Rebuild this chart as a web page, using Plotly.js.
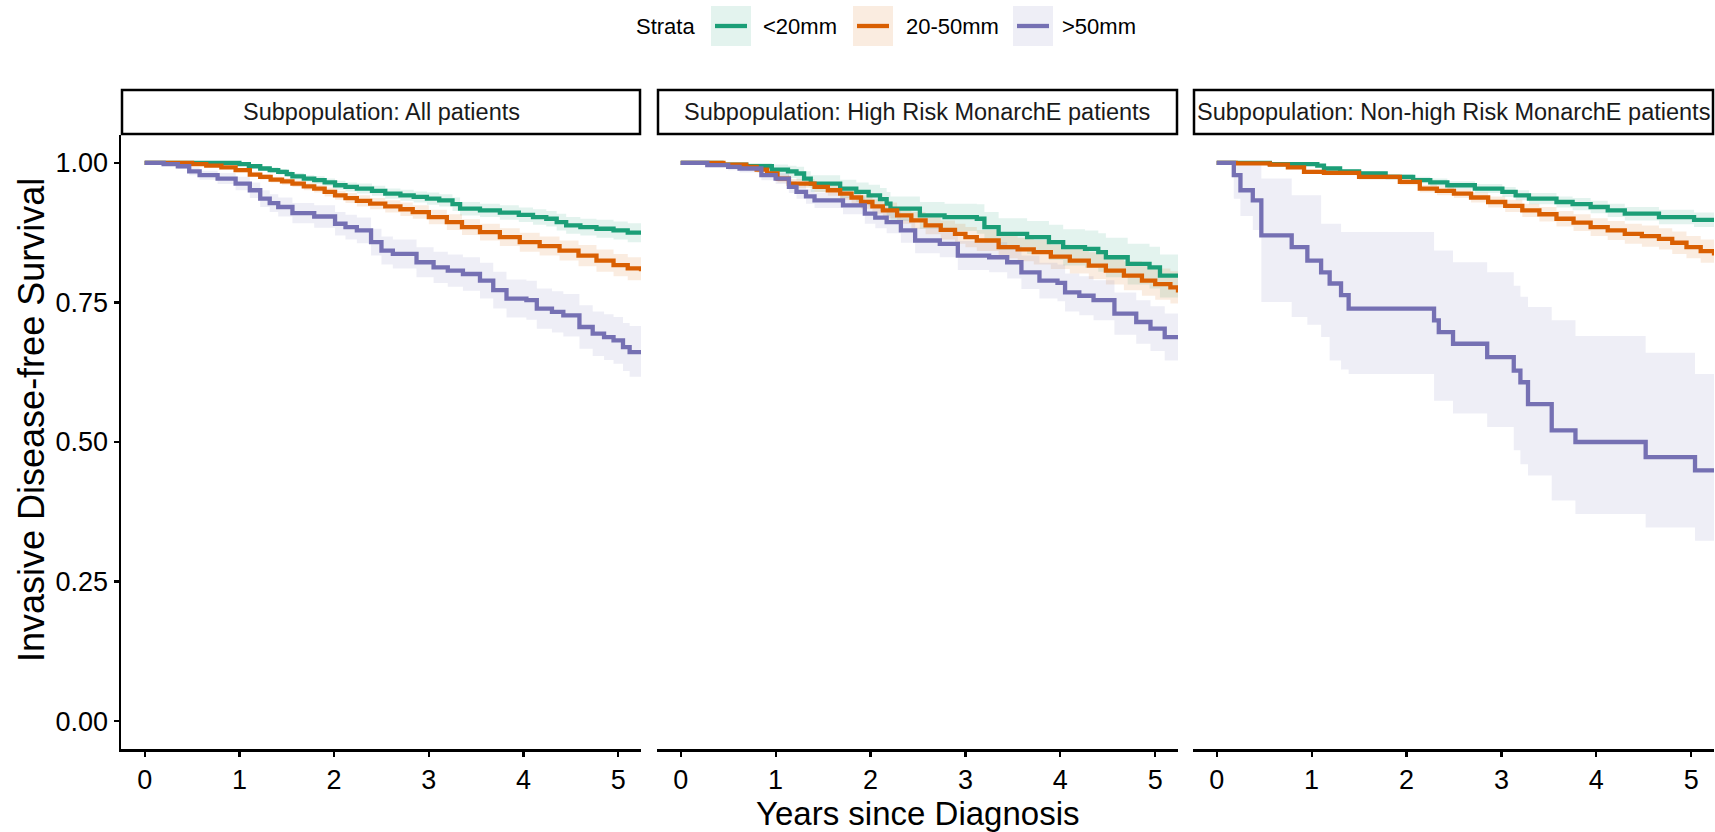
<!DOCTYPE html>
<html>
<head>
<meta charset="utf-8">
<script src="https://cdn.plot.ly/plotly-3.0.1.min.js"></script>
<style>html,body{margin:0;padding:0;background:#fff;}#chart{width:1715px;height:832px;}</style>
</head>
<body>
<div id="chart"></div>
<script>
// ---------------- DATA ----------------
const panelTitles = ["Subpopulation: All patients", "Subpopulation: High Risk MonarchE patients", "Subpopulation: Non-high Risk MonarchE patients"];
const strataNames = ["<20mm", "20-50mm", ">50mm"];
const legendTitle = "Strata";
const xTickVals = [0, 1, 2, 3, 4, 5];
const xTickText = ["0", "1", "2", "3", "4", "5"];
const yTickVals = [0, 0.25, 0.5, 0.75, 1];
const yTickText = ["0.00", "0.25", "0.50", "0.75", "1.00"];
const xTitle = "Years since Diagnosis";
const yTitle = "Invasive Disease-free Survival";

// Panel 1: All patients
const all_lt20_t  = [0, 1.00, 1.10, 1.22, 1.32, 1.41, 1.50, 1.56, 1.68, 1.79, 1.90, 2.01, 2.12, 2.24, 2.40, 2.54, 2.70, 2.84, 2.98, 3.11, 3.25, 3.33, 3.54, 3.75, 3.95, 4.10, 4.24, 4.35, 4.45, 4.60, 4.77, 4.95, 5.10, 5.24];
const all_lt20_s  = [1.000, 0.998, 0.994, 0.990, 0.987, 0.984, 0.980, 0.976, 0.972, 0.969, 0.965, 0.960, 0.957, 0.954, 0.950, 0.945, 0.942, 0.939, 0.936, 0.933, 0.926, 0.918, 0.915, 0.911, 0.907, 0.903, 0.900, 0.894, 0.888, 0.885, 0.882, 0.879, 0.875, 0.873];
const all_lt20_lo = [1.000, 0.996, 0.991, 0.986, 0.982, 0.979, 0.975, 0.970, 0.966, 0.962, 0.958, 0.952, 0.949, 0.945, 0.941, 0.936, 0.932, 0.929, 0.925, 0.922, 0.914, 0.906, 0.903, 0.898, 0.894, 0.889, 0.886, 0.879, 0.873, 0.870, 0.866, 0.863, 0.858, 0.856];
const all_lt20_hi = [1.000, 1.000, 0.997, 0.994, 0.992, 0.989, 0.986, 0.982, 0.978, 0.976, 0.972, 0.968, 0.965, 0.963, 0.959, 0.954, 0.952, 0.949, 0.947, 0.944, 0.938, 0.930, 0.927, 0.924, 0.920, 0.917, 0.914, 0.909, 0.903, 0.900, 0.898, 0.895, 0.892, 0.890];

const all_mid_t  = [0, 0.50, 0.65, 0.81, 0.96, 1.11, 1.22, 1.33, 1.45, 1.56, 1.68, 1.79, 1.90, 2.01, 2.12, 2.24, 2.38, 2.54, 2.70, 2.83, 3.00, 3.19, 3.35, 3.54, 3.75, 3.96, 4.17, 4.38, 4.58, 4.77, 4.95, 5.10, 5.24];
const all_mid_s  = [1.000, 0.998, 0.995, 0.992, 0.987, 0.979, 0.975, 0.970, 0.967, 0.963, 0.958, 0.954, 0.948, 0.942, 0.937, 0.932, 0.927, 0.922, 0.917, 0.912, 0.903, 0.894, 0.885, 0.876, 0.867, 0.858, 0.851, 0.843, 0.834, 0.825, 0.817, 0.811, 0.806];
const all_mid_lo = [1.000, 0.997, 0.993, 0.989, 0.983, 0.975, 0.970, 0.965, 0.961, 0.957, 0.951, 0.947, 0.940, 0.934, 0.928, 0.922, 0.917, 0.911, 0.905, 0.900, 0.890, 0.880, 0.871, 0.861, 0.851, 0.841, 0.834, 0.825, 0.815, 0.805, 0.797, 0.790, 0.786];
const all_mid_hi = [1.000, 0.999, 0.997, 0.995, 0.991, 0.984, 0.980, 0.975, 0.973, 0.969, 0.965, 0.961, 0.956, 0.950, 0.946, 0.942, 0.937, 0.933, 0.929, 0.924, 0.916, 0.908, 0.899, 0.891, 0.883, 0.875, 0.868, 0.861, 0.853, 0.845, 0.837, 0.831, 0.826];

const all_gt50_t  = [0, 0.20, 0.35, 0.47, 0.58, 0.77, 0.96, 1.11, 1.22, 1.32, 1.41, 1.56, 1.79, 2.01, 2.12, 2.24, 2.39, 2.50, 2.62, 2.87, 3.05, 3.20, 3.36, 3.54, 3.68, 3.82, 4.03, 4.14, 4.30, 4.42, 4.59, 4.73, 4.85, 4.95, 5.05, 5.12, 5.24];
const all_gt50_s  = [1.000, 0.998, 0.994, 0.985, 0.978, 0.972, 0.963, 0.951, 0.936, 0.928, 0.921, 0.910, 0.904, 0.891, 0.885, 0.879, 0.858, 0.843, 0.837, 0.822, 0.813, 0.807, 0.801, 0.789, 0.772, 0.757, 0.754, 0.739, 0.733, 0.727, 0.706, 0.694, 0.688, 0.682, 0.670, 0.661, 0.658];
const all_gt50_lo = [1.000, 0.995, 0.989, 0.978, 0.970, 0.962, 0.951, 0.937, 0.921, 0.912, 0.904, 0.892, 0.884, 0.870, 0.863, 0.856, 0.834, 0.818, 0.811, 0.795, 0.785, 0.778, 0.771, 0.757, 0.739, 0.723, 0.719, 0.703, 0.696, 0.689, 0.667, 0.654, 0.647, 0.640, 0.627, 0.617, 0.613];
const all_gt50_hi = [1.000, 1.000, 0.998, 0.992, 0.986, 0.982, 0.975, 0.965, 0.951, 0.944, 0.938, 0.928, 0.924, 0.912, 0.907, 0.902, 0.882, 0.868, 0.863, 0.849, 0.841, 0.836, 0.831, 0.821, 0.805, 0.791, 0.789, 0.775, 0.770, 0.765, 0.745, 0.734, 0.729, 0.724, 0.713, 0.708, 0.707];

// Panel 2: High Risk MonarchE patients
const hr_lt20_t  = [0, 0.43, 0.69, 0.96, 1.13, 1.22, 1.30, 1.37, 1.68, 1.85, 1.98, 2.10, 2.17, 2.21, 2.52, 2.78, 3.12, 3.20, 3.35, 3.65, 3.88, 4.03, 4.26, 4.40, 4.48, 4.71, 4.94, 5.05, 5.24];
const hr_lt20_s  = [1.000, 0.997, 0.994, 0.988, 0.985, 0.981, 0.972, 0.963, 0.954, 0.948, 0.942, 0.935, 0.927, 0.918, 0.906, 0.903, 0.900, 0.885, 0.873, 0.867, 0.858, 0.849, 0.846, 0.840, 0.831, 0.819, 0.813, 0.798, 0.798];
const hr_lt20_lo = [1.000, 0.993, 0.987, 0.978, 0.973, 0.968, 0.958, 0.948, 0.937, 0.930, 0.922, 0.914, 0.905, 0.896, 0.882, 0.878, 0.873, 0.857, 0.844, 0.837, 0.826, 0.816, 0.812, 0.805, 0.795, 0.782, 0.775, 0.759, 0.759];
const hr_lt20_hi = [1.000, 1.000, 1.000, 0.997, 0.995, 0.993, 0.985, 0.978, 0.970, 0.965, 0.961, 0.955, 0.948, 0.940, 0.930, 0.927, 0.926, 0.912, 0.901, 0.896, 0.889, 0.881, 0.879, 0.874, 0.866, 0.855, 0.850, 0.836, 0.836];

const hr_mid_t  = [0, 0.45, 0.69, 0.80, 0.91, 1.02, 1.14, 1.41, 1.55, 1.68, 1.80, 1.90, 2.02, 2.13, 2.28, 2.43, 2.58, 2.74, 2.89, 3.00, 3.12, 3.35, 3.55, 3.72, 3.90, 4.10, 4.30, 4.48, 4.67, 4.86, 5.00, 5.16, 5.24];
const hr_mid_s  = [1.000, 0.997, 0.993, 0.988, 0.981, 0.972, 0.963, 0.957, 0.951, 0.945, 0.938, 0.930, 0.922, 0.915, 0.906, 0.897, 0.888, 0.880, 0.873, 0.867, 0.861, 0.849, 0.845, 0.840, 0.832, 0.825, 0.816, 0.807, 0.798, 0.789, 0.783, 0.777, 0.768];
const hr_mid_lo = [1.000, 0.995, 0.989, 0.983, 0.975, 0.965, 0.955, 0.948, 0.941, 0.934, 0.927, 0.918, 0.909, 0.901, 0.891, 0.882, 0.872, 0.863, 0.855, 0.849, 0.842, 0.829, 0.824, 0.818, 0.810, 0.802, 0.792, 0.782, 0.772, 0.762, 0.755, 0.748, 0.739];
const hr_mid_hi = [1.000, 0.999, 0.997, 0.993, 0.987, 0.979, 0.971, 0.966, 0.961, 0.956, 0.949, 0.942, 0.935, 0.929, 0.921, 0.912, 0.904, 0.897, 0.891, 0.885, 0.880, 0.869, 0.866, 0.862, 0.854, 0.848, 0.840, 0.832, 0.824, 0.816, 0.811, 0.806, 0.797];

const hr_gt50_t  = [0, 0.28, 0.50, 0.62, 0.85, 1.00, 1.14, 1.22, 1.32, 1.41, 1.71, 1.94, 2.05, 2.17, 2.32, 2.47, 2.73, 2.92, 3.25, 3.44, 3.59, 3.78, 3.97, 4.05, 4.20, 4.35, 4.57, 4.80, 4.95, 5.10, 5.24];
const hr_gt50_s  = [1.000, 0.996, 0.993, 0.990, 0.978, 0.972, 0.957, 0.948, 0.940, 0.933, 0.924, 0.909, 0.902, 0.894, 0.879, 0.861, 0.855, 0.834, 0.831, 0.822, 0.804, 0.789, 0.785, 0.768, 0.762, 0.754, 0.730, 0.715, 0.703, 0.688, 0.685];
const hr_gt50_lo = [1.000, 0.992, 0.987, 0.983, 0.969, 0.962, 0.946, 0.936, 0.927, 0.919, 0.908, 0.891, 0.883, 0.874, 0.857, 0.838, 0.831, 0.808, 0.804, 0.793, 0.774, 0.757, 0.752, 0.734, 0.727, 0.718, 0.692, 0.676, 0.663, 0.646, 0.640];
const hr_gt50_hi = [1.000, 1.000, 0.998, 0.996, 0.987, 0.982, 0.968, 0.960, 0.953, 0.947, 0.940, 0.927, 0.921, 0.914, 0.901, 0.884, 0.879, 0.860, 0.858, 0.851, 0.834, 0.821, 0.818, 0.802, 0.797, 0.790, 0.768, 0.754, 0.743, 0.730, 0.728];

// Panel 3: Non-high Risk MonarchE patients
const nhr_lt20_t  = [0, 0.56, 1.06, 1.13, 1.30, 1.50, 1.78, 2.07, 2.25, 2.43, 2.72, 3.01, 3.15, 3.29, 3.58, 3.75, 3.94, 4.12, 4.30, 4.66, 5.03, 5.24];
const nhr_lt20_s  = [1.000, 0.998, 0.995, 0.990, 0.985, 0.981, 0.975, 0.969, 0.965, 0.960, 0.954, 0.948, 0.942, 0.936, 0.930, 0.926, 0.921, 0.915, 0.909, 0.903, 0.898, 0.894];
const nhr_lt20_lo = [1.000, 0.997, 0.993, 0.987, 0.982, 0.977, 0.970, 0.963, 0.958, 0.953, 0.946, 0.939, 0.933, 0.926, 0.920, 0.915, 0.910, 0.903, 0.897, 0.890, 0.885, 0.881];
const nhr_lt20_hi = [1.000, 0.999, 0.997, 0.993, 0.989, 0.985, 0.980, 0.975, 0.972, 0.967, 0.962, 0.957, 0.951, 0.946, 0.940, 0.937, 0.932, 0.927, 0.921, 0.916, 0.911, 0.907];

const nhr_mid_t  = [0, 0.20, 0.56, 0.75, 0.92, 1.13, 1.50, 1.93, 2.14, 2.32, 2.50, 2.68, 2.86, 3.04, 3.22, 3.40, 3.58, 3.76, 3.94, 4.12, 4.30, 4.48, 4.66, 4.80, 4.95, 5.10, 5.24];
const nhr_mid_s  = [1.000, 0.999, 0.997, 0.992, 0.984, 0.982, 0.975, 0.966, 0.954, 0.950, 0.945, 0.938, 0.930, 0.923, 0.915, 0.908, 0.900, 0.893, 0.885, 0.879, 0.873, 0.869, 0.864, 0.857, 0.849, 0.842, 0.834];
const nhr_mid_lo = [1.000, 0.998, 0.995, 0.989, 0.980, 0.978, 0.970, 0.960, 0.947, 0.942, 0.937, 0.929, 0.920, 0.912, 0.903, 0.895, 0.886, 0.878, 0.869, 0.862, 0.855, 0.850, 0.845, 0.837, 0.829, 0.821, 0.813];
const nhr_mid_hi = [1.000, 1.000, 0.999, 0.995, 0.988, 0.986, 0.980, 0.972, 0.961, 0.958, 0.953, 0.947, 0.940, 0.934, 0.927, 0.921, 0.914, 0.908, 0.901, 0.896, 0.891, 0.888, 0.883, 0.877, 0.869, 0.863, 0.855];

const nhr_gt50_t  = [0, 0.18, 0.25, 0.38, 0.47, 0.79, 0.955, 1.10, 1.19, 1.31, 1.39, 2.29, 2.34, 2.49, 2.85, 3.13, 3.20, 3.28, 3.53, 3.78, 4.52, 5.04, 5.24];
const nhr_gt50_s  = [1.000, 0.978, 0.951, 0.933, 0.870, 0.849, 0.825, 0.804, 0.784, 0.763, 0.739, 0.718, 0.697, 0.676, 0.652, 0.628, 0.607, 0.568, 0.521, 0.500, 0.473, 0.449, 0.449];
const nhr_gt50_lo = [1.000, 0.936, 0.905, 0.880, 0.751, 0.724, 0.710, 0.688, 0.646, 0.630, 0.622, 0.574, 0.574, 0.551, 0.527, 0.485, 0.460, 0.440, 0.395, 0.371, 0.347, 0.323, 0.323];
const nhr_gt50_hi = [1.000, 1.000, 1.000, 1.000, 0.972, 0.942, 0.942, 0.891, 0.891, 0.876, 0.876, 0.843, 0.843, 0.822, 0.804, 0.780, 0.760, 0.742, 0.718, 0.690, 0.660, 0.622, 0.622];

// ---------------- STYLE ----------------
const W = 1715, H = 832;
const FONT = "Liberation Sans, Arial, Helvetica, sans-serif";
const colors = ["#1B9E77", "#D95F02", "#7570B3"];
const ribbons = ["rgba(27,158,119,0.12)", "rgba(217,95,2,0.12)", "rgba(117,112,179,0.12)"];
const px = v => v / W;          // pixel x -> paper
const py = v => 1 - v / H;      // pixel y -> paper
const panelPx = [[121, 641], [657, 1178], [1193, 1714]];
const plotTop = 135, plotBottom = 749;

const panels = [
  [[all_lt20_t, all_lt20_s, all_lt20_lo, all_lt20_hi], [all_mid_t, all_mid_s, all_mid_lo, all_mid_hi], [all_gt50_t, all_gt50_s, all_gt50_lo, all_gt50_hi]],
  [[hr_lt20_t, hr_lt20_s, hr_lt20_lo, hr_lt20_hi], [hr_mid_t, hr_mid_s, hr_mid_lo, hr_mid_hi], [hr_gt50_t, hr_gt50_s, hr_gt50_lo, hr_gt50_hi]],
  [[nhr_lt20_t, nhr_lt20_s, nhr_lt20_lo, nhr_lt20_hi], [nhr_mid_t, nhr_mid_s, nhr_mid_lo, nhr_mid_hi], [nhr_gt50_t, nhr_gt50_s, nhr_gt50_lo, nhr_gt50_hi]]
];

const traces = [];
panels.forEach((series, p) => {
  const xa = p === 0 ? "x" : "x" + (p + 1);
  const ya = p === 0 ? "y" : "y" + (p + 1);
  series.forEach((d, k) => {
    traces.push({x: d[0], y: d[2], xaxis: xa, yaxis: ya, type: "scatter", mode: "lines",
      line: {width: 0, shape: "hv", color: colors[k]}, showlegend: false, hoverinfo: "skip"});
    traces.push({x: d[0], y: d[3], xaxis: xa, yaxis: ya, type: "scatter", mode: "lines",
      line: {width: 0, shape: "hv", color: colors[k]}, fill: "tonexty", fillcolor: ribbons[k],
      showlegend: false, hoverinfo: "skip"});
  });
});
panels.forEach((series, p) => {
  const xa = p === 0 ? "x" : "x" + (p + 1);
  const ya = p === 0 ? "y" : "y" + (p + 1);
  series.forEach((d, k) => {
    traces.push({x: d[0], y: d[1], xaxis: xa, yaxis: ya, type: "scatter", mode: "lines",
      name: strataNames[k], line: {width: 4.3, shape: "hv", color: colors[k]}, showlegend: false});
  });
});

const layout = {
  width: W, height: H,
  margin: {l: 0, r: 0, t: 0, b: 0, pad: 0},
  paper_bgcolor: "#ffffff", plot_bgcolor: "rgba(0,0,0,0)",
  font: {family: FONT, color: "#000000"},
  showlegend: false,
  shapes: [], annotations: []
};

const yDom = [py(plotBottom), py(plotTop)];
panelPx.forEach((pp, p) => {
  const sfx = p === 0 ? "" : String(p + 1);
  layout["xaxis" + sfx] = {
    domain: [px(pp[0]), px(pp[1])], range: [-0.25, 5.24], anchor: "y" + sfx,
    showline: true, linecolor: "#000", linewidth: 2.5, mirror: false,
    ticks: "outside", ticklen: 5, tickwidth: 2.2, tickcolor: "#000",
    tickvals: xTickVals, ticktext: xTickText,
    tickfont: {family: FONT, size: 27, color: "#000"},
    showgrid: false, zeroline: false, fixedrange: true
  };
  layout["yaxis" + sfx] = {
    domain: yDom, range: [-0.05, 1.05], anchor: "x" + sfx,
    showline: p === 0, linecolor: "#000", linewidth: 2.5,
    ticks: p === 0 ? "outside" : "", ticklen: 5, tickwidth: 2.2, tickcolor: "#000",
    tickvals: yTickVals, ticktext: yTickText, showticklabels: p === 0,
    tickfont: {family: FONT, size: 27, color: "#000"},
    showgrid: false, zeroline: false, fixedrange: true
  };
  // facet strip
  layout.shapes.push({type: "rect", xref: "paper", yref: "paper",
    x0: px(pp[0] + 1), x1: px(pp[1] - 1), y0: py(134), y1: py(90),
    line: {color: "#000", width: 2.5}, fillcolor: "#ffffff", layer: "above"});
  layout.annotations.push({xref: "paper", yref: "paper", x: px((pp[0] + pp[1]) / 2), y: py(112),
    text: panelTitles[p], showarrow: false, xanchor: "center", yanchor: "middle",
    font: {family: FONT, size: 23.5, color: "#1a1a1a"}});
});

// axis titles
layout.annotations.push({xref: "paper", yref: "paper", x: px(917.5), y: py(813), text: xTitle,
  showarrow: false, xanchor: "center", yanchor: "middle", borderpad: 0,
  font: {family: FONT, size: 33, color: "#000"}});
layout.annotations.push({xref: "paper", yref: "paper", x: px(31), y: py(420), text: yTitle, textangle: -90,
  showarrow: false, xanchor: "center", yanchor: "middle", font: {family: FONT, size: 36, color: "#000"}});

// legend (top, horizontal)
const legY = 26;
layout.annotations.push({xref: "paper", yref: "paper", x: px(634), y: py(legY), text: legendTitle,
  showarrow: false, xanchor: "left", yanchor: "middle", font: {family: FONT, size: 22, color: "#000"}});
const keyX = [711, 853, 1013];
const textX = [761, 904, 1060];
strataNames.forEach((nm, k) => {
  layout.shapes.push({type: "rect", xref: "paper", yref: "paper", x0: px(keyX[k]), x1: px(keyX[k] + 40),
    y0: py(46), y1: py(6), line: {width: 0}, fillcolor: ribbons[k], layer: "above"});
  layout.shapes.push({type: "line", xref: "paper", yref: "paper", x0: px(keyX[k] + 4), x1: px(keyX[k] + 36),
    y0: py(legY), y1: py(legY), line: {width: 4.3, color: colors[k]}, layer: "above"});
  layout.annotations.push({xref: "paper", yref: "paper", x: px(textX[k]), y: py(legY), text: nm,
    showarrow: false, xanchor: "left", yanchor: "middle", font: {family: FONT, size: 22, color: "#000"}});
});

Plotly.newPlot("chart", traces, layout, {staticPlot: true, displayModeBar: false});
</script>
</body>
</html>
